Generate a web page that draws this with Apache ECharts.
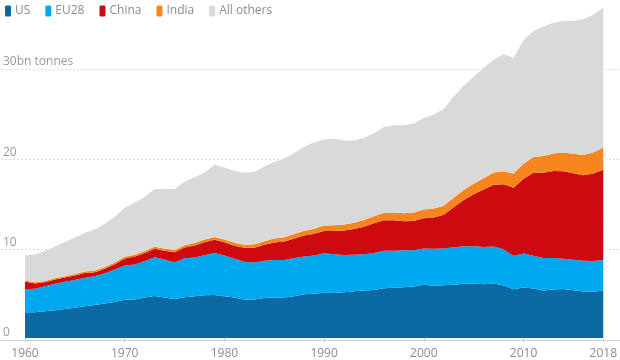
<!DOCTYPE html>
<html>
<head>
<meta charset="utf-8">
<script src="https://cdn.jsdelivr.net/npm/echarts@6/dist/echarts.min.js"></script>
<style>
html,body{margin:0;padding:0;background:#fff;}
#chart{width:620px;height:360px;}
</style>
</head>
<body>
<div id="chart"></div>
<script>
const years = [];
for (let y = 1960; y <= 2018; y++) years.push(String(y));

const xTickLabels = ['1960', '1970', '1980', '1990', '2000', '2010', '2018'];

const us = [2.88,2.86,2.97,3.10,3.23,3.37,3.55,3.67,3.84,4.02,
            4.25,4.30,4.50,4.68,4.52,4.35,4.55,4.66,4.76,4.78,
            4.65,4.50,4.30,4.30,4.46,4.50,4.50,4.66,4.86,4.93,
            5.05,5.00,5.10,5.20,5.29,5.36,5.54,5.61,5.66,5.73,
            5.93,5.83,5.87,5.93,6.03,6.06,5.98,6.06,5.85,5.43,
            5.62,5.50,5.30,5.41,5.46,5.31,5.18,5.14,5.30];

const eu28 = [2.55,2.62,2.78,2.95,3.04,3.10,3.15,3.20,3.38,3.60,
              3.82,3.90,4.05,4.30,4.22,4.05,4.32,4.30,4.45,4.68,
              4.55,4.32,4.18,4.12,4.15,4.20,4.20,4.25,4.22,4.26,
              4.40,4.32,4.15,4.07,4.05,4.10,4.18,4.10,4.10,4.03,
              4.05,4.12,4.09,4.18,4.18,4.15,4.16,4.12,4.03,3.70,
              3.78,3.66,3.60,3.50,3.36,3.40,3.41,3.43,3.38];

const china = [0.85,0.60,0.47,0.46,0.46,0.50,0.54,0.46,0.50,0.60,
               0.78,0.87,0.92,0.96,0.99,1.15,1.20,1.34,1.46,1.49,
               1.47,1.46,1.56,1.64,1.77,1.94,2.05,2.18,2.34,2.41,
               2.48,2.60,2.71,2.88,3.05,3.32,3.40,3.40,3.25,3.28,
               3.35,3.48,3.76,4.45,5.15,5.80,6.40,6.90,7.25,7.60,
               8.35,9.25,9.50,9.70,9.75,9.65,9.55,9.75,10.05];

const india = [0.12,0.13,0.14,0.15,0.15,0.17,0.17,0.18,0.19,0.19,
               0.20,0.21,0.22,0.23,0.24,0.26,0.27,0.28,0.29,0.30,
               0.30,0.33,0.35,0.37,0.40,0.43,0.46,0.49,0.53,0.57,
               0.59,0.63,0.67,0.70,0.74,0.79,0.83,0.87,0.89,0.94,
               0.98,0.99,1.02,1.05,1.11,1.17,1.25,1.35,1.45,1.59,
               1.66,1.74,1.87,1.95,2.09,2.15,2.25,2.35,2.50];

const allOthers = [2.80,3.09,3.34,3.54,3.82,4.06,4.29,4.59,4.79,5.09,
                   5.45,5.82,6.01,6.43,6.63,6.79,7.06,7.32,7.44,8.05,
                   8.03,7.99,8.01,8.07,8.32,8.53,8.79,9.02,9.35,9.63,
                   9.58,9.65,9.37,9.15,9.17,9.23,9.55,9.72,9.80,9.92,
                   10.19,10.48,10.76,11.29,11.63,11.92,12.31,12.57,13.02,12.88,
                   13.79,14.05,14.43,14.54,14.64,14.79,15.11,15.33,15.57];

const seriesNames = ['US', 'EU28', 'China', 'India', 'All others'];
const seriesValues = [us, eu28, china, india, allOthers];
const colors = ['#0b6aa2', '#00a9ef', '#cc0a0f', '#f7861e', '#d9d9d9'];

const FONT = '"Open Sans", "DejaVu Sans", sans-serif';
const Y_MAX = 37.2;
const showTick = (idx, val) => xTickLabels.indexOf(String(val)) >= 0;

const chart = echarts.init(document.getElementById('chart'), null, {renderer: 'canvas'});
chart.setOption({
  animation: false,
  color: colors,
  textStyle: {fontFamily: FONT},
  legend: {
    left: 0, top: 0,
    icon: 'roundRect',
    itemWidth: 6, itemHeight: 11,
    itemGap: 15,
    textStyle: {color: '#8c8c8c', fontSize: 12, fontFamily: FONT, padding: [0, 0, 0, -1]},
    data: seriesNames
  },
  grid: [
    {left: 25, right: 13, top: 4, bottom: 20, containLabel: false},
    {left: 0, right: 0, top: 4, bottom: 20, containLabel: false}
  ],
  xAxis: [
    {
      type: 'category', gridIndex: 0, data: years, boundaryGap: false,
      splitLine: {show: false},
      axisLine: {show: false},
      axisTick: {show: true, length: 4, lineStyle: {color: '#d0d0d0'}, interval: showTick, alignWithLabel: true},
      axisLabel: {interval: showTick, color: '#8c8c8c', fontSize: 12, fontFamily: FONT, margin: 10},
      z: 3
    },
    {
      type: 'value', gridIndex: 1, min: 0, max: 1,
      splitLine: {show: false},
      axisLine: {show: true, lineStyle: {color: '#d0d0d0', width: 1}},
      axisTick: {show: false},
      axisLabel: {show: false}
    }
  ],
  yAxis: [
    {type: 'value', gridIndex: 0, min: 0, max: Y_MAX, interval: 10, show: false, splitLine: {show: false}},
    {
      type: 'value', gridIndex: 1, min: 0, max: Y_MAX, interval: 10,
      axisLine: {show: false},
      axisTick: {show: false},
      splitLine: {show: true, showMinLine: false, showMaxLine: false,
                  lineStyle: {color: '#dcdcdc', type: [2, 2], width: 1}},
      axisLabel: {
        inside: true, margin: 2, verticalAlign: 'bottom',
        showMaxLabel: false,
        padding: [0, 0, 1, 0],
        color: '#9a9a9a', fontSize: 12, fontFamily: FONT,
        formatter: v => v === 30 ? '30bn tonnes' : String(v)
      }
    }
  ],
  series: seriesNames.map((name, i) => ({
    name: name,
    type: 'line',
    xAxisIndex: 0, yAxisIndex: 0,
    stack: 'total',
    symbol: 'none',
    smooth: false,
    lineStyle: {width: 0},
    areaStyle: {color: colors[i], opacity: 1},
    data: seriesValues[i]
  }))
});
</script>
</body>
</html>
